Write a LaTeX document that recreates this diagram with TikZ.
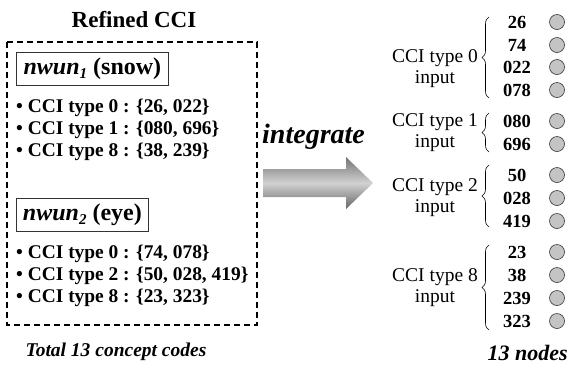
\documentclass[tikz,border=0pt]{standalone}
\usepackage{fontspec}
\setmainfont{Liberation Serif}
\usetikzlibrary{decorations.pathreplacing}
\newcommand\fsz[1]{\fontsize{#1bp}{1.1\dimexpr#1bp\relax}\selectfont}
\newcommand\nsub[1]{\raisebox{-4bp}{\fsz{15}\textbf{\textit{#1}}}}
\tikzset{
  bullet/.style={anchor=west, inner sep=0pt, font=\fsz{19.4}\bfseries},
  wbox/.style={draw=black!80, line width=0.8bp, inner sep=0pt, minimum height=33bp, font=\fsz{24}\bfseries},
  num/.style={inner sep=0pt, font=\fsz{18.5}\bfseries},
  lab/.style={inner sep=0pt, align=center, font=\fontsize{19.5bp}{21bp}\selectfont},
  unit/.style={circle, draw=black!80, line width=0.6bp, fill=black!23, minimum size=15bp, inner sep=0pt},
  brc/.style={decorate, decoration={brace, amplitude=7bp}, line width=0.6bp},
}
\begin{document}
\begin{tikzpicture}[x=1bp, y=-1bp]
\useasboundingbox (0,0) rectangle (569,368);
% left panel
\node[font=\fsz{23}\bfseries] (title) at (134,20) {Refined CCI};
\draw[line width=1.5bp, dash pattern=on 6bp off 4bp] (7,42) rectangle (257,325);
\node[wbox, minimum width=152bp, anchor=west] (w1) at (16,69) {\textit{nwun}\nsub{1} (snow)};
\node[bullet] (b11) at (16,108) {• CCI type 0 : \{26, 022\}};
\node[bullet] (b12) at (16,130) {• CCI type 1 : \{080, 696\}};
\node[bullet] (b13) at (16,152) {• CCI type 8 : \{38, 239\}};
\node[wbox, minimum width=132bp, anchor=west] (w2) at (16,214.5) {\textit{nwun}\nsub{2} (eye)};
\node[bullet] (b21) at (16,254) {• CCI type 0 : \{74, 078\}};
\node[bullet] (b22) at (16,276) {• CCI type 2 : \{50, 028, 419\}};
\node[bullet] (b23) at (16,298) {• CCI type 8 : \{23, 323\}};
\node[font=\fsz{19.5}\bfseries\itshape] (total) at (116,352) {Total 13 concept codes};
% arrow
\node[font=\fsz{28}\bfseries\itshape, anchor=west, inner sep=0pt] (integ) at (262,137) {integrate};
\shade[top color=black!55, bottom color=black!60, middle color=black!18]
  (263,169) -- (346,169) -- (346,157) -- (373,183) -- (346,209) -- (346,197) -- (263,197) -- cycle;
% right panel
\foreach \n/\t/\y in {a/26/22, b/74/45, c/022/67, d/078/90, e/080/121, f/696/144,
  g/50/175, h/028/198, i/419/221, j/23/252, k/38/275, l/239/298, m/323/321}{
  \node[num] (n\n) at (517,\y) {\t};
  \node[unit] (u\n) at (557,\y) {};
}
\node[lab] (l0) at (435,69) {CCI type 0\\input};
\node[lab] (l1) at (435,132.5) {CCI type 1\\input};
\node[lab] (l2) at (435,197.5) {CCI type 2\\input};
\node[lab] (l8) at (435,287.5) {CCI type 8\\input};
\coordinate (t0) at (489,17); \coordinate (s0) at (489,98);
\coordinate (t1) at (489,113); \coordinate (s1) at (489,152);
\coordinate (t2) at (489,165); \coordinate (s2) at (489,227);
\coordinate (t8) at (489,245); \coordinate (s8) at (489,330);
\draw[brc] (s0) -- (t0);
\draw[brc] (s1) -- (t1);
\draw[brc] (s2) -- (t2);
\draw[brc] (s8) -- (t8);
\node[font=\fsz{22}\bfseries\itshape, anchor=east, inner sep=0pt] (nodes) at (568,353) {13 nodes};
\end{tikzpicture}
\end{document}
